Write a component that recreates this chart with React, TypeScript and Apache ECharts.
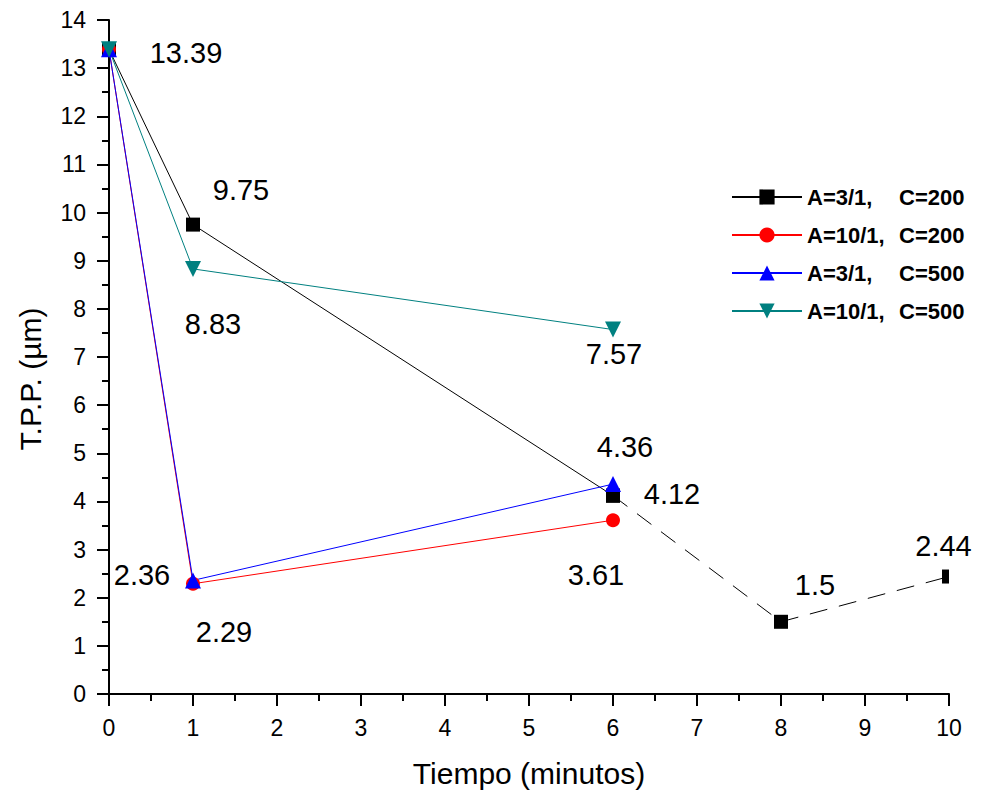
import React, { useEffect, useRef } from "react";
import * as echarts from "echarts";

const xBlackSolid = [0, 1, 6];
const yBlackSolid = [13.39, 9.75, 4.12];
const xBlackDashed = [6, 8, 10];
const yBlackDashed = [4.12, 1.5, 2.44];
const xRed = [0, 1, 6];
const yRed = [13.39, 2.29, 3.61];
const xBlue = [0, 1, 6];
const yBlue = [13.39, 2.36, 4.36];
const xTeal = [0, 1, 6];
const yTeal = [13.39, 8.83, 7.57];

const seriesNames = ["A=3/1,   C=200", "A=10/1, C=200", "A=3/1,   C=500", "A=10/1, C=500"];

const FONT = "'Liberation Sans', Arial, sans-serif";
const DOWN_TRI = "path://M0,0 L10,0 L5,9 Z";

function pts(xs: number[], ys: number[], offsets: (number[] | null)[]) {
  return xs.map((x, i) => {
    const o = offsets[i];
    const item: any = { value: [x, ys[i]] };
    if (o) {
      item.label = {
        show: true,
        position: "inside",
        offset: o,
        formatter: String(ys[i]),
      };
    }
    return item;
  });
}

export default function App() {
  const ref = useRef<HTMLDivElement>(null);
  useEffect(() => {
    if (!ref.current) return;
    const chart = echarts.init(ref.current, null, { renderer: "svg" });
    const labelStyle = {
      color: "#000",
      fontSize: 29,
      fontFamily: FONT,
      align: "center",
      verticalAlign: "middle",
    };
    const base = (name: string, color: string, symbol: string, size: number | number[]) => ({
      type: "line",
      name,
      symbol,
      symbolSize: size,
      lineStyle: { color, width: 1 },
      itemStyle: { color },
      label: { show: false, ...labelStyle },
      clip: false,
    });
    const blackDashed: any[] = pts(xBlackDashed, yBlackDashed, [null, [34, -37], [-2, -31]]);
    blackDashed[2].symbolSize = [7, 14];
    blackDashed[2].symbolOffset = [-3.5, 0];
    chart.setOption({
      animation: false,
      backgroundColor: "#fff",
      grid: { left: 109, right: 33, top: 20, bottom: 99 },
      legend: {
        left: 731,
        top: 184,
        orient: "vertical",
        padding: 0,
        itemWidth: 70,
        itemHeight: 19,
        itemGap: 12,
        data: seriesNames,
        formatter: (name: string) => {
          const idx = name.indexOf(",");
          const a = name.slice(0, idx + 1);
          const c = name.slice(idx + 1).trim();
          return `{a|${a}}{c|${c}}`;
        },
        textStyle: {
          fontFamily: FONT,
          fontWeight: "bold",
          fontSize: 22,
          color: "#000",
          lineHeight: 26,
          rich: {
            a: { width: 92, fontFamily: FONT, fontWeight: "bold", fontSize: 22, color: "#000" },
            c: { fontFamily: FONT, fontWeight: "bold", fontSize: 22, color: "#000" },
          },
        },
      },
      xAxis: {
        type: "value",
        min: 0,
        max: 10,
        interval: 1,
        name: "Tiempo (minutos)",
        nameLocation: "middle",
        nameGap: 64,
        nameTextStyle: { fontSize: 30, fontFamily: FONT, color: "#000" },
        axisLine: { show: true, lineStyle: { color: "#000", width: 2 } },
        axisTick: { show: true, inside: false, length: 12, lineStyle: { color: "#000", width: 2 } },
        minorTick: { show: true, splitNumber: 2, length: 7, lineStyle: { color: "#000", width: 2 } },
        axisLabel: { fontSize: 23, fontFamily: FONT, color: "#000", margin: 22 },
        splitLine: { show: false },
      },
      yAxis: {
        type: "value",
        min: 0,
        max: 14,
        interval: 1,
        name: "T.P.P. (µm)",
        nameLocation: "middle",
        nameRotate: 90,
        nameGap: 64,
        nameTextStyle: { fontSize: 30, fontFamily: FONT, color: "#000", padding: [0, 44, 0, 0] },
        axisLine: { show: true, lineStyle: { color: "#000", width: 2 } },
        axisTick: { show: true, inside: false, length: 12, lineStyle: { color: "#000", width: 2 } },
        minorTick: { show: true, splitNumber: 2, length: 7, lineStyle: { color: "#000", width: 2 } },
        axisLabel: { fontSize: 23, fontFamily: FONT, color: "#000", margin: 23 },
        splitLine: { show: false },
      },
      series: [
        {
          ...base(seriesNames[0], "#000000", "rect", 14),
          data: pts(xBlackSolid, yBlackSolid, [[77, 4], [48, -35], [59, -2]]),
        },
        {
          ...base(seriesNames[0], "#000000", "rect", 14),
          lineStyle: { color: "#000000", width: 1, type: [18, 12] },
          data: blackDashed,
        },
        {
          ...base(seriesNames[1], "#ff0000", "circle", 14),
          data: pts(xRed, yRed, [null, [31, 48], [-17, 55]]),
        },
        {
          ...base(seriesNames[2], "#0000ff", "triangle", 16),
          data: pts(xBlue, yBlue, [null, [-51, -5], [12, -37]]),
        },
        {
          ...base(seriesNames[3], "#008080", DOWN_TRI, 16),
          data: pts(xTeal, yTeal, [null, [20, 55], [1, 24]]),
        },
      ],
    });
    return () => chart.dispose();
  }, []);
  return <div ref={ref} style={{ width: 982, height: 793, position: "absolute", left: 0, top: 0 }} />;
}
